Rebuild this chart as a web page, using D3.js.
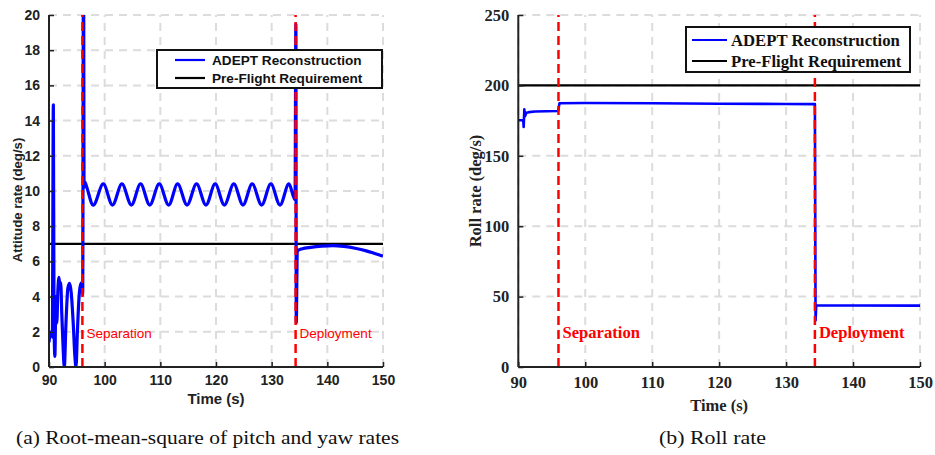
<!DOCTYPE html>
<html>
<head>
<meta charset="utf-8">
<script src="https://cdn.jsdelivr.net/npm/d3@7"></script>
<style>
  html, body { margin: 0; padding: 0; background: #fff; }
  svg { display: block; }
</style>
</head>
<body>
<svg id="chart" width="935" height="455"></svg>
<script>
// ---------------- DATA ----------------
const xTicks = [90, 100, 110, 120, 130, 140, 150];
const leftYTicks = [0, 2, 4, 6, 8, 10, 12, 14, 16, 18, 20];
const rightYTicks = [0, 50, 100, 150, 200, 250];

const separationTime = 96.0;
const deploymentTime = 134.3;
const leftRequirement = 7;
const rightRequirement = 200;

const legendLabels = ["ADEPT Reconstruction", "Pre-Flight Requirement"];
const eventLabels = ["Separation", "Deployment"];
const captions = ["(a)  Root-mean-square of pitch and yaw rates", "(b)  Roll rate"];

// (a) RMS of pitch and yaw rates (deg/s)
const leftTime = [90.0, 90.2, 90.45, 90.6, 90.78, 90.9, 91.05, 91.25, 91.4, 91.6, 91.8, 91.95, 92.1, 92.3, 92.55, 92.75,
  93.05, 93.4, 93.7, 94.0, 94.35, 94.65, 94.85, 95.1, 95.4, 95.7, 95.9, 96.05, 96.2, 96.3, 96.45,
  96.7, 97.95, 99.75, 101.4, 103.1, 104.8, 106.45, 108.1, 109.8, 111.5, 113.1, 114.8, 116.5, 118.2,
  119.85, 121.5, 123.2, 124.85, 126.5, 128.2, 129.85, 131.5, 133.1, 134.2, 134.35, 134.42, 134.6,
  135.5, 137, 139, 141, 143, 145, 147, 148.5, 150];
const leftRate = [1.4, 1.9, 2.0, 1.7, 14.9, 3.0, 0.6, 4.0, 2.5, 4.4, 5.1, 4.5, 4.8, 3.0, 1.0, 0.0,
  2.5, 4.5, 4.75, 4.2, 2.5, 0.6, 0.0, 2.0, 4.0, 4.7, 4.8, 4.1, 24, 10.2, 10.5,
  10.3, 9.2, 10.4, 9.2, 10.4, 9.2, 10.4, 9.2, 10.4, 9.2, 10.4, 9.2, 10.4, 9.2,
  10.4, 9.2, 10.4, 9.2, 10.4, 9.2, 10.4, 9.2, 10.4, 9.5, 19.5, 2.5, 6.6,
  6.72, 6.8, 6.87, 6.9, 6.85, 6.75, 6.6, 6.45, 6.3];

// (b) Roll rate (deg/s)
const rightTime = [90.0, 90.6, 90.75, 90.8, 90.9, 91.0, 91.2, 91.6, 92.5, 95.95, 96.15, 100, 110, 120, 130, 134.3, 134.4, 134.5, 140, 150];
const rightRate = [175.3, 175.3, 174.5, 170.5, 183, 178, 180.5, 181, 181.5, 181.8, 187.3, 187.5, 187.3, 187.0, 186.8, 186.7, 33, 43.8, 43.7, 43.6];

// ---------------- DRAW ----------------
const svg = d3.select("#chart");
const BLUE = "#0000ff", RED = "#ff0000", GRID = "#dcdcdc";

function panel(cfg) {
  const x = d3.scaleLinear().domain([90, 150]).range(cfg.xr);
  const y = d3.scaleLinear().domain(cfg.yd).range([367, 15]);
  const g = svg.append("g");
  const font = cfg.font;

  // grid
  const grid = g.append("g").attr("stroke", GRID).attr("stroke-width", 2).attr("stroke-dasharray", "8,6");
  xTicks.forEach(t => grid.append("line").attr("x1", x(t)).attr("x2", x(t)).attr("y1", y.range()[0]).attr("y2", y.range()[1]));
  cfg.yTicks.forEach(t => grid.append("line").attr("y1", y(t)).attr("y2", y(t)).attr("x1", cfg.xr[0]).attr("x2", cfg.xr[1]));

  const clipId = "clip" + cfg.id;
  svg.append("clipPath").attr("id", clipId).append("rect")
    .attr("x", cfg.xr[0]).attr("y", 15).attr("width", cfg.xr[1] - cfg.xr[0]).attr("height", 352);
  const plot = g.append("g").attr("clip-path", `url(#${clipId})`);

  // requirement line
  plot.append("line").attr("x1", cfg.xr[0]).attr("x2", cfg.xr[1])
    .attr("y1", y(cfg.req)).attr("y2", y(cfg.req)).attr("stroke", "#000").attr("stroke-width", 2.2);

  // data line
  const pts = cfg.t.map((t, i) => [t, cfg.v[i]]);
  plot.append("path").datum(pts)
    .attr("fill", "none").attr("stroke", BLUE).attr("stroke-width", cfg.lw).attr("stroke-linejoin", "round")
    .attr("d", d3.line().x(d => x(d[0])).y(d => y(d[1])).curve(cfg.curve));

  // event lines
  [separationTime, deploymentTime].forEach((t, i) => {
    g.append("line").attr("x1", x(t)).attr("x2", x(t)).attr("y1", 367).attr("y2", 15)
      .attr("stroke", RED).attr("stroke-width", 2.5).attr("stroke-dasharray", "9,5");
    g.append("text").attr("x", x(t) + 4).attr("y", 338)
      .attr("fill", RED).attr("font-family", font).attr("font-size", cfg.evSize)
      .attr("font-weight", cfg.evWeight).text(eventLabels[i]);
  });

  // axes
  const xAxis = d3.axisBottom(x).tickValues(xTicks).tickSizeInner(-5).tickSizeOuter(0).tickPadding(cfg.xPad);
  const gx = g.append("g").attr("transform", "translate(0,367)").call(xAxis);
  const yAxis = d3.axisLeft(y).tickValues(cfg.yTicks).tickSizeInner(-5).tickSizeOuter(0).tickPadding(cfg.yPad);
  const gy = g.append("g").attr("transform", `translate(${cfg.xr[0]},0)`).call(yAxis);
  [gx, gy].forEach(a => {
    a.select(".domain").attr("stroke", "#222").attr("stroke-width", 2);
    a.selectAll(".tick line").attr("stroke", "#222").attr("stroke-width", 1.5);
    a.selectAll(".tick text").attr("fill", "#222").attr("font-family", font)
      .attr("font-size", cfg.tickSize).attr("font-weight", "bold");
  });
  gy.select(".domain").attr("d", `M0,367V15`);
  gx.select(".domain").attr("d", `M${cfg.xr[0]},0H${cfg.xr[1]}`);

  // axis labels
  g.append("text").attr("x", (cfg.xr[0] + cfg.xr[1]) / 2).attr("y", cfg.xLabelY).attr("text-anchor", "middle")
    .attr("font-family", font).attr("font-size", cfg.labelSize).attr("font-weight", "bold").attr("fill", "#222")
    .text("Time (s)");
  g.append("text").attr("transform", `translate(${cfg.yLabelX},${cfg.yLabelCY}) rotate(-90)`)
    .attr("text-anchor", "middle").attr("dominant-baseline", "central")
    .attr("font-family", font).attr("font-size", cfg.yLabelSize).attr("font-weight", "bold").attr("fill", "#222")
    .text(cfg.yLabel);

  // legend
  const L = cfg.legend;
  const lg = g.append("g");
  lg.append("rect").attr("x", L.x0).attr("y", L.y0).attr("width", L.x1 - L.x0).attr("height", L.y1 - L.y0)
    .attr("fill", "#fff").attr("stroke", "#111").attr("stroke-width", 2);
  [BLUE, "#000"].forEach((c, i) => {
    lg.append("line").attr("x1", L.lx0).attr("x2", L.lx1).attr("y1", L.rows[i]).attr("y2", L.rows[i])
      .attr("stroke", c).attr("stroke-width", 2.2);
    lg.append("text").attr("x", L.tx).attr("y", L.rows[i]).attr("dominant-baseline", "central")
      .attr("font-family", font).attr("font-size", L.size).attr("font-weight", "bold").attr("fill", "#111")
      .text(legendLabels[i]);
  });

  // caption
  svg.append("text").attr("x", cfg.cap.x).attr("y", 444)
    .attr("font-family", "'Liberation Serif', 'Times New Roman', serif").attr("font-size", 18).attr("fill", "#111")
    .attr("textLength", cfg.cap.w).attr("lengthAdjust", "spacingAndGlyphs")
    .text(cfg.cap.text);
}

panel({
  id: "a", xr: [49, 383], yd: [0, 20], yTicks: leftYTicks, req: leftRequirement,
  t: leftTime, v: leftRate, lw: 3.2, curve: d3.curveMonotoneX,
  font: "'Liberation Sans', Arial, Helvetica, sans-serif",
  evSize: 13.5, evWeight: "normal", tickSize: 14, labelSize: 15, yLabelSize: 13.2,
  xPad: 8, yPad: 9, xLabelY: 404, yLabelX: 17, yLabelCY: 200,
  yLabel: "Attitude rate (deg/s)",
  legend: { x0: 157, x1: 382, y0: 50, y1: 88, lx0: 175, lx1: 205, tx: 212, rows: [60, 78], size: 13.6 },
  cap: { x: 16, w: 383, text: captions[0] }
});

panel({
  id: "b", xr: [518.3, 920], yd: [0, 250], yTicks: rightYTicks, req: rightRequirement,
  t: rightTime, v: rightRate, lw: 2.6, curve: d3.curveLinear,
  font: "'Liberation Serif', 'Times New Roman', serif",
  evSize: 16.6, evWeight: "bold", tickSize: 16.5, labelSize: 16.5, yLabelSize: 16.5,
  xPad: 9, yPad: 9, xLabelY: 411, yLabelX: 475, yLabelCY: 191,
  yLabel: "Roll rate (deg/s)",
  legend: { x0: 686, x1: 910, y0: 27, y1: 72, lx0: 692, lx1: 727, tx: 731, rows: [40, 61], size: 16.7 },
  cap: { x: 659, w: 107, text: captions[1] }
});
</script>
</body>
</html>
